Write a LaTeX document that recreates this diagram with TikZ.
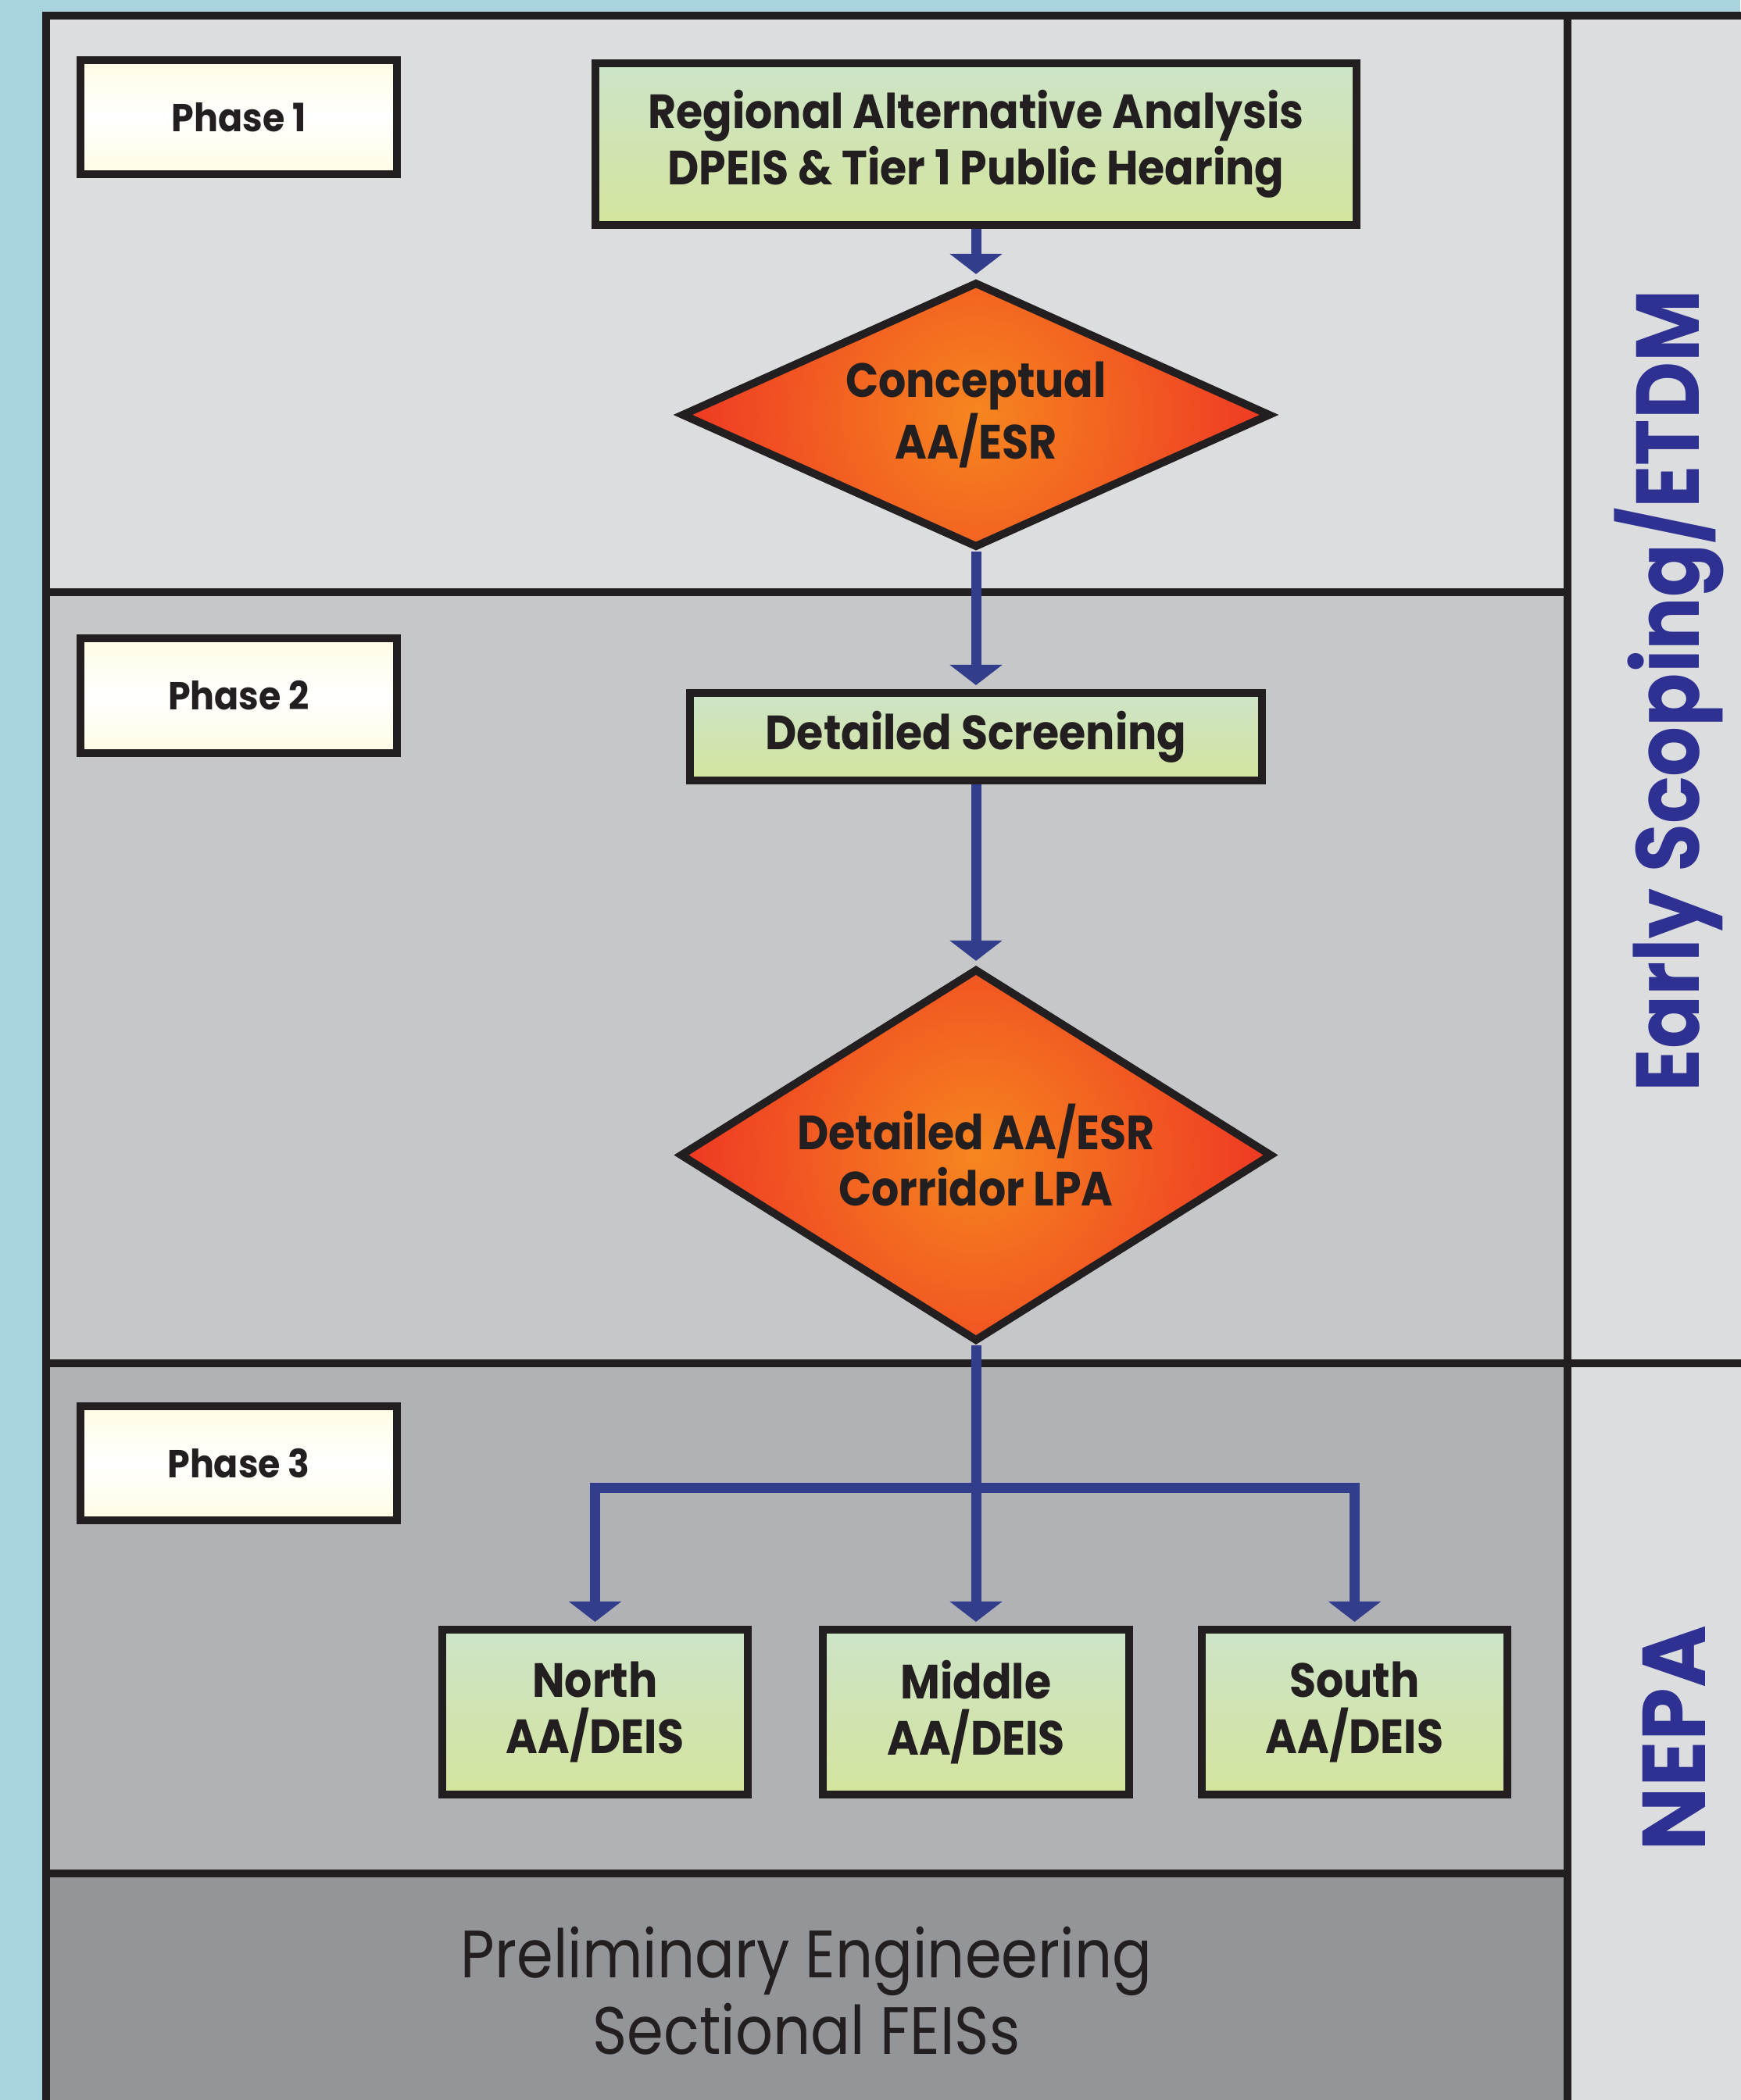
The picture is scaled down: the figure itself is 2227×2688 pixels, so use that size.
\documentclass[tikz,border=0pt]{standalone}
\usepackage{fontspec}
\newfontfamily\fut[FakeStretch=0.9]{Poppins}
\newfontfamily\futpe[FakeStretch=0.877]{Poppins}
\newfontfamily\futes[FakeStretch=0.88]{Poppins}
\newfontfamily\futnp[FakeStretch=0.95]{Poppins}
\newfontfamily\futph[FakeStretch=0.92]{Poppins}
\usetikzlibrary{arrows.meta,shapes.geometric}
\definecolor{bgblue}{HTML}{A8D4DE}
\definecolor{gA}{HTML}{DCDDDF}
\definecolor{gB}{HTML}{C6C7C9}
\definecolor{gC}{HTML}{B1B2B6}
\definecolor{gD}{HTML}{939598}
\definecolor{inkc}{HTML}{231F20}
\definecolor{connc}{HTML}{323E8C}
\definecolor{tblue}{HTML}{2E3192}
\definecolor{boxtop}{HTML}{CDE4C8}
\definecolor{boxbot}{HTML}{D3E49D}
\definecolor{phy}{HTML}{FFFCE3}
\definecolor{dorange}{HTML}{F6861F}
\definecolor{dred}{HTML}{EE3424}
\begin{document}
\begin{tikzpicture}[x=0.01cm,y=-0.01cm,
  frameline/.style={draw=inkc,line width=0.1cm},
  gbox/.style={draw=inkc,line width=0.1cm,top color=boxtop,bottom color=boxbot,inner sep=0pt,align=center,
    font=\fut\bfseries\fontsize{17.5}{20.5}\selectfont,text=inkc},
  phasebox/.style={draw=inkc,line width=0.1cm,top color=phy,bottom color=phy,middle color=white,inner sep=0pt,
    minimum width=4.05cm,minimum height=1.46cm,font=\futph\bfseries\fontsize{14.2}{17}\selectfont,text=inkc},
  dia/.style={diamond,draw=inkc,line width=0.1cm,inner sep=0pt,
    path picture={\shade[inner color=dorange,outer color=dred] (path picture bounding box.center) circle (3.95cm);}},
  dtext/.style={align=center,inner sep=0pt,font=\fut\bfseries\fontsize{17.5}{20.5}\selectfont,text=inkc},
  connector/.style={draw=connc,line width=0.13cm,-{Triangle[width=0.66cm,length=0.26cm]},shorten >=0.05cm},
  side/.style={rotate=90,anchor=base,text=tblue}
]
\useasboundingbox (0,0) rectangle (2227,2688);
\fill[bgblue] (0,0) rectangle (2227,2688);
\fill[gA] (59,20) rectangle (2006,758);
\fill[gB] (59,758) rectangle (2006,1745);
\fill[gC] (59,1745) rectangle (2006,2398);
\fill[gD] (59,2398) rectangle (2006,2720);
\fill[gA] (2006,20) rectangle (2260,2720);
\draw[frameline] (54,20) -- (2260,20);
\draw[frameline] (59,15) -- (59,2720);
\draw[frameline] (2006,20) -- (2006,2720);
\draw[frameline] (59,758) -- (2006,758);
\draw[frameline] (59,1745) -- (2260,1745);
\draw[frameline] (59,2398) -- (2006,2398);

\node[phasebox] (p1) at (305.5,150) {Phase 1};
\node[phasebox] (p2) at (305.5,890.5) {Phase 2};
\node[phasebox] (p3) at (305.5,1873) {Phase 3};

\node[gbox,minimum width=9.74cm,minimum height=2.07cm] (raa) at (1249,184.5)
  {Regional Alternative Analysis\\DPEIS \& Tier 1 Public Hearing};
\node[dia,minimum width=7.54cm,minimum height=3.40cm] (d1) at (1249,531) {};
\node[dtext] (d1t) at (d1.center) {Conceptual\\AA/ESR};
\node[gbox,minimum width=7.31cm,minimum height=1.12cm] (ds) at (1249,943) {Detailed Screening};
\node[dia,minimum width=7.58cm,minimum height=4.77cm] (d2) at (1249,1478.5) {};
\node[dtext] (d2t) at (d2.center) {Detailed AA/ESR\\Corridor LPA};
\node[gbox,minimum width=3.91cm,minimum height=2.11cm] (north) at (761.5,2191.5) {North\\AA/DEIS};
\node[gbox,minimum width=3.91cm,minimum height=2.11cm] (middle) at (1249,2191.5) {Middle\\AA/DEIS};
\node[gbox,minimum width=3.91cm,minimum height=2.11cm] (south) at (1733.5,2191.5) {South\\AA/DEIS};
\coordinate (br) at (1249,1904);

\draw[connector] (raa.south) -- (d1.north);
\draw[connector] (d1.south) -- (ds.north);
\draw[connector] (ds.south) -- (d2.north);
\draw[connector] (d2.south) -- (middle.north);
\draw[connector] (br) -| (north.north);
\draw[connector] (br) -| (south.north);

\node[align=center,inner sep=0pt,font=\futpe\fontsize{24.4}{27.9}\selectfont,text=inkc] (pe) at (1032,2548)
  {Preliminary Engineering\\Sectional FEISs};
\node[side,font=\futes\bfseries\fontsize{32.5}{36}\selectfont] (es) at (2174,884) {Early Scoping/ETDM};
\node[side,font=\futnp\bfseries\fontsize{32.5}{36}\selectfont] (nepa) at (2182,2225) {NEPA};
\end{tikzpicture}
\end{document}
